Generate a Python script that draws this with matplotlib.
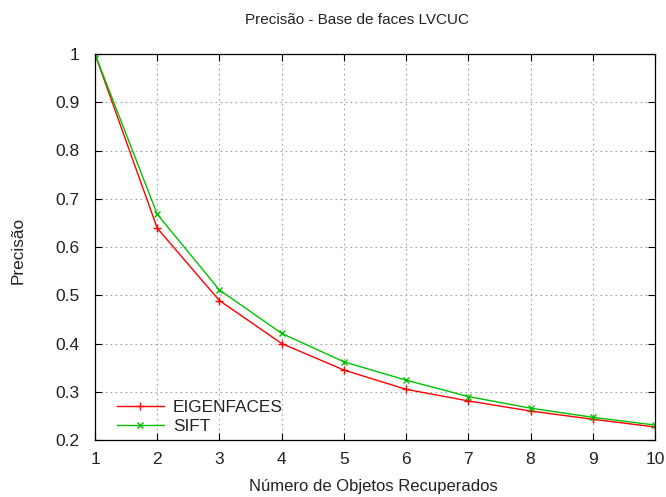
import matplotlib
matplotlib.use('Agg')
import matplotlib.pyplot as plt

# Dados
objetos = [1, 2, 3, 4, 5, 6, 7, 8, 9, 10]
eigenfaces = [1.0, 0.639, 0.489, 0.400, 0.345, 0.305, 0.281, 0.260, 0.243, 0.227]
sift = [1.0, 0.668, 0.511, 0.421, 0.362, 0.324, 0.290, 0.266, 0.247, 0.231]
yticks = [0.2, 0.3, 0.4, 0.5, 0.6, 0.7, 0.8, 0.9, 1]
ytick_labels = ['0.2', '0.3', '0.4', '0.5', '0.6', '0.7', '0.8', '0.9', '1']

plt.rcParams['font.family'] = ['Liberation Sans', 'DejaVu Sans']
plt.rcParams['text.color'] = '#222222'

fig = plt.figure(figsize=(6.66, 4.97), dpi=100)
ax = fig.add_axes([95 / 666, 1 - 440 / 497, 560 / 666, 386 / 497])

ax.plot(objetos, eigenfaces, color='#ff0000', marker='+', markersize=6, markeredgewidth=1,
        linewidth=1, label='EIGENFACES')
ax.plot(objetos, sift, color='#00c000', marker='x', markersize=5, markeredgewidth=1,
        linewidth=1, label='SIFT')

ax.set_xlim(1, 10)
ax.set_ylim(0.2, 1)
ax.set_xticks(objetos)
ax.set_yticks(yticks)
ax.set_yticklabels(ytick_labels)
ax.tick_params(direction='in', top=True, right=True, length=5, width=0.8,
               labelsize=12.5, labelcolor='#222222')
ax.tick_params(axis='x', pad=9)
ax.tick_params(axis='y', pad=11)
ax.grid(True, linestyle=(0, (1.5, 3)), color='#a0a0a0', linewidth=0.8)

for s in ax.spines.values():
    s.set_linewidth(0.9)

# Titulo e eixos
fig.text(357 / 666, 1 - 20 / 497, 'Precisão - Base de faces LVCUC', ha='center', va='center', fontsize=11)
fig.text(373 / 666, 1 - 487 / 497, 'Número de Objetos Recuperados', ha='center', va='center', fontsize=12)
fig.text(18 / 666, 1 - 250 / 497, 'Precisão', ha='center', va='center', rotation=90, fontsize=12.4)

ax.legend(loc='lower left', frameon=False, fontsize=12.4, handlelength=2.7, handletextpad=0.55,
          labelspacing=0.2, borderaxespad=0, borderpad=0,
          bbox_to_anchor=(22 / 560, 6 / 386))

fig.savefig('out.png', dpi=100)
